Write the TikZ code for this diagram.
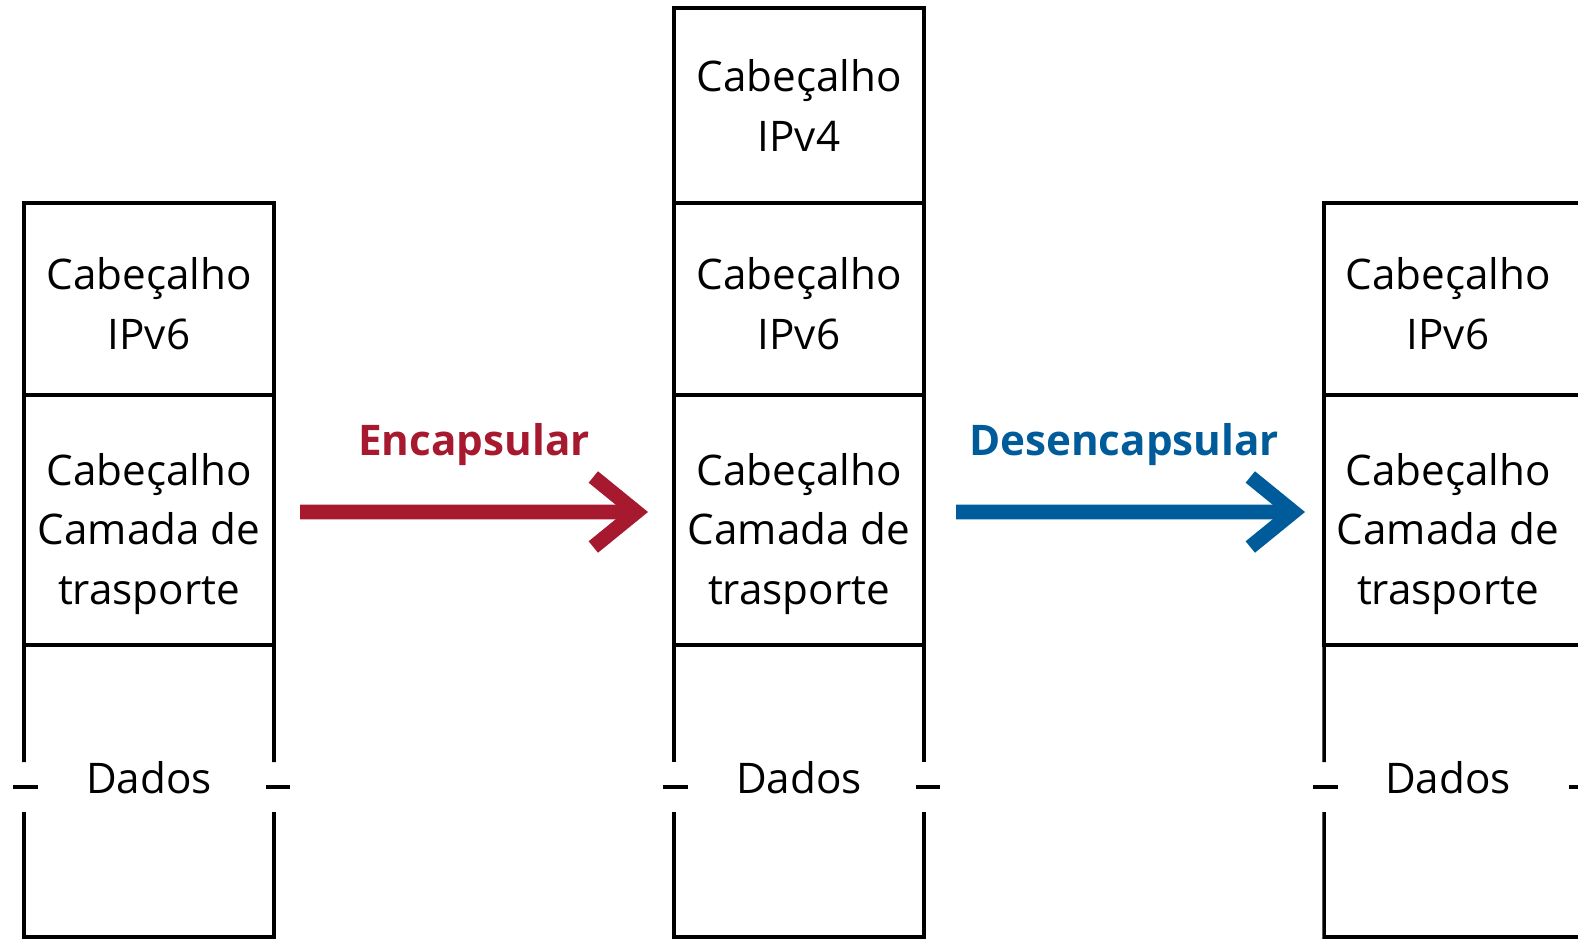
\documentclass[tikz,border=0pt]{standalone}
\usepackage{fontspec}
\setmainfont{Open Sans}
\usetikzlibrary{positioning,arrows.meta}
\definecolor{encred}{RGB}{166,25,46}
\definecolor{decblue}{RGB}{0,91,154}

\begin{document}
\begin{tikzpicture}[
    seg/.style={draw, line width=1pt, minimum width=2.5cm, inner sep=0pt, outer sep=0pt, anchor=north west},
    txt/.style={font=\fontsize{12}{17}\selectfont, inner sep=0pt, align=center},
    edge/.style={line width=1pt},
    bigarrow/.style={line width=4.2pt, -{Straight Barb[length=4.3mm, width=7mm]}},
    arrowlabel/.style={font=\fontsize{12}{17}\selectfont\bfseries, inner sep=0pt}
]
    \useasboundingbox (0,0) rectangle (15.78,9.40);

    % Original packet
    \node[seg, minimum height=1.92cm] (l1) at (0.24,7.37) {};
    \node[seg, minimum height=2.50cm, below=0pt of l1] (l2) {};
    \node[txt, yshift=-0.05cm] (l1t) at (l1) {Cabeçalho\\IPv6};
    \node[txt, yshift=-0.14cm] (l2t) at (l2) {Cabeçalho\\Camada de\\trasporte};
    \node[txt, anchor=base] (l3) at (1.49,1.47) {Dados};
    \draw[edge] (l2.south west) -- (0.24,1.78) (0.24,1.28) -- (0.24,0.03) -- (2.74,0.03)
        -- (2.74,1.28) (2.74,1.78) -- (l2.south east);
    \draw[edge] (0.13,1.53) -- (0.38,1.53) (2.66,1.53) -- (2.90,1.53);

    % Tunnel packet
    \node[seg, minimum height=1.95cm] (m0) at (6.74,9.32) {};
    \node[seg, minimum height=1.92cm, below=0pt of m0] (m1) {};
    \node[seg, minimum height=2.50cm, below=0pt of m1] (m2) {};
    \node[txt] (m0t) at (m0) {Cabeçalho\\IPv4};
    \node[txt, yshift=-0.05cm] (m1t) at (m1) {Cabeçalho\\IPv6};
    \node[txt, yshift=-0.14cm] (m2t) at (m2) {Cabeçalho\\Camada de\\trasporte};
    \node[txt, anchor=base] (m3) at (7.99,1.47) {Dados};
    \draw[edge] (m2.south west) -- (6.74,1.78) (6.74,1.28) -- (6.74,0.03) -- (9.24,0.03)
        -- (9.24,1.28) (9.24,1.78) -- (m2.south east);
    \draw[edge] (6.63,1.53) -- (6.88,1.53) (9.16,1.53) -- (9.40,1.53);

    % Restored packet
    \node[seg, minimum width=2.56cm, minimum height=1.92cm] (r1) at (13.24,7.37) {};
    \node[seg, minimum width=2.56cm, minimum height=2.50cm, below=0pt of r1] (r2) {};
    \node[txt, yshift=-0.05cm] (r1t) at (14.48,6.41) {Cabeçalho\\IPv6};
    \node[txt, yshift=-0.14cm] (r2t) at (14.48,4.20) {Cabeçalho\\Camada de\\trasporte};
    \node[txt, anchor=base] (r3) at (14.48,1.47) {Dados};
    \draw[edge] (r2.south west) -- (13.24,1.78) (13.24,1.28) -- (13.24,0.03) -- (15.80,0.03)
        -- (15.80,1.28) (15.80,1.78) -- (r2.south east);
    \draw[edge] (13.13,1.53) -- (13.38,1.53) (15.69,1.53) -- (15.94,1.53);

    % Arrows
    \draw[bigarrow, encred, shorten <=0.26cm, shorten >=0.26cm]
        ([yshift=0.08cm]l2.east) -- ([yshift=0.08cm]m2.west)
        node[arrowlabel, midway, anchor=base, yshift=0.57cm] (enc) {Encapsular};
    \draw[bigarrow, decblue, shorten <=0.32cm, shorten >=0.19cm]
        ([yshift=0.08cm]m2.east) -- ([yshift=0.08cm]r2.west)
        node[arrowlabel, midway, anchor=base, yshift=0.57cm] (dec) {Desencapsular};
\end{tikzpicture}
\end{document}
